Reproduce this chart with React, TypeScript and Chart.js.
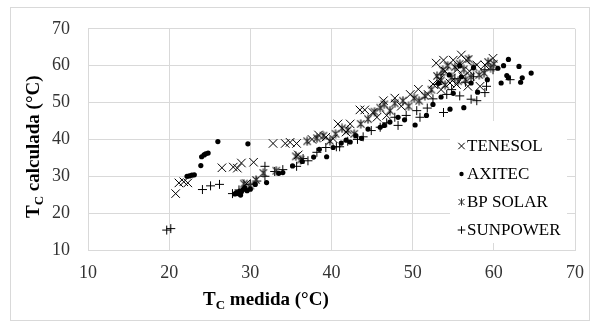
import React, { useEffect, useRef } from 'react';
import { Chart, registerables } from 'chart.js';

Chart.register(...registerables);

const X_MIN = 10;
const X_MAX = 70;
const Y_MIN = 10;
const Y_MAX = 70;
const TICK_STEP = 10;

const SERIES_NAMES = ['TENESOL', 'AXITEC', 'BP SOLAR', 'SUNPOWER'];
const X_TITLE = { main: 'T', sub: 'C', rest: ' medida (°C)' };
const Y_TITLE = { main: 'T', sub: 'C', rest: ' calculada (°C)' };

const TENESOL: [number, number][] = [
  [20.8, 25.3], [21.2, 28.2], [21.8, 28.5], [22.3, 28.2],
  [26.5, 32.3], [27.9, 32.5], [28.4, 32.2], [28.9, 33.6], [30.4, 33.8], [29.5, 28.0],
  [32.8, 38.9], [34.3, 38.9], [34.9, 39.2], [35.7, 38.9], [35.9, 35.8],
  [37.6, 40.0], [38.4, 41.2], [39.3, 40.6], [40.2, 40.2], [40.8, 44.2], [41.8, 42.0],
  [42.3, 44.2], [43.5, 48.0], [44.1, 48.0], [45.1, 47.3], [45.6, 46.0], [46.4, 50.5],
  [46.8, 46.5], [47.8, 51.2], [48.6, 49.0], [49.7, 52.2], [50.7, 53.6], [51.9, 52.2],
  [52.9, 60.7], [53.8, 61.5], [55.0, 61.5], [56.0, 62.9], [56.6, 61.5], [57.9, 60.2],
  [58.9, 60.2], [59.9, 62.0], [53.3, 56.2], [54.6, 55.3], [55.4, 54.9], [56.8, 54.4],
  [58.3, 54.4], [54.0, 58.5], [55.5, 59.0], [57.0, 58.5], [56.2, 57.0], [53.5, 53.5], [52.5, 55.0],
];

const AXITEC: [number, number][] = [
  [22.2, 30.0], [22.5, 30.1], [22.8, 30.3], [23.1, 30.4], [23.9, 32.9], [24.0, 35.3],
  [24.3, 35.8], [24.5, 36.1], [24.8, 36.3], [26.0, 39.4], [29.7, 38.8],
  [28.1, 25.2], [28.3, 25.6], [28.5, 25.3], [28.7, 26.0], [28.9, 25.8], [29.1, 26.4],
  [29.3, 26.9], [29.6, 26.1], [28.8, 24.9], [30.0, 26.5], [30.6, 27.8], [32.0, 28.3],
  [33.5, 30.8], [34.0, 31.0], [35.2, 32.8], [36.4, 34.0], [37.8, 35.2], [39.4, 35.3],
  [38.5, 37.3], [40.2, 37.8], [41.2, 39.0], [41.8, 39.8], [42.3, 39.3], [43.0, 41.0],
  [43.7, 40.3], [44.5, 42.8], [46.0, 43.3], [46.5, 43.8], [47.2, 44.7], [48.2, 46.0],
  [49.0, 45.3], [50.3, 43.9], [51.7, 46.5], [52.5, 49.5], [53.5, 51.5], [54.6, 48.2],
  [56.3, 48.6], [55.0, 52.5], [56.0, 57.0], [57.2, 55.3], [58.0, 52.8], [59.2, 56.2],
  [60.5, 59.3], [61.2, 60.0], [61.8, 61.7], [63.1, 59.8], [64.6, 58.0], [61.6, 57.3],
  [61.8, 56.7], [63.5, 56.7], [63.3, 55.5], [60.9, 55.3], [54.5, 57.5], [53.2, 55.2],
  [57.5, 59.5], [55.8, 60.0],
];

const BP_SOLAR: [number, number][] = [
  [29.2, 28.0], [30.0, 27.5], [30.7, 29.0], [31.6, 30.9], [33.2, 31.5], [35.6, 35.4],
  [36.2, 34.5], [37.0, 39.5], [38.2, 40.3], [39.0, 41.0], [39.8, 39.6], [40.5, 41.5],
  [41.3, 43.0], [42.0, 42.5], [42.8, 41.5], [43.6, 44.2], [44.5, 45.5], [45.3, 47.5],
  [46.0, 48.6], [46.5, 49.5], [47.2, 47.8], [47.8, 49.8], [48.8, 50.5], [49.5, 49.0],
  [50.2, 51.2], [50.8, 50.5], [51.5, 51.8], [52.3, 53.5], [53.0, 57.2], [53.7, 58.8],
  [54.3, 60.0], [55.2, 59.6], [55.8, 60.5], [56.3, 59.0], [56.9, 61.8], [57.5, 59.6],
  [58.2, 57.5], [54.8, 56.8], [55.6, 55.8], [56.5, 56.2], [57.2, 57.0], [58.8, 58.0],
  [59.6, 59.5], [60.0, 60.5], [54.0, 54.8], [53.5, 56.0], [59.3, 61.0],
];

const SUNPOWER: [number, number][] = [
  [19.7, 15.4], [20.2, 15.8], [24.1, 26.4], [25.1, 27.4], [26.2, 27.8], [27.8, 25.3],
  [28.6, 26.3], [30.0, 27.8], [30.8, 28.7], [31.8, 30.0], [31.8, 32.7], [33.0, 31.3],
  [34.0, 31.8], [35.7, 32.7], [36.5, 34.8], [37.1, 34.2], [38.2, 36.5], [39.3, 37.8],
  [40.6, 38.0], [41.0, 38.0], [42.0, 39.5], [43.2, 40.0], [43.9, 40.7], [44.9, 42.4],
  [46.0, 43.3], [46.8, 44.5], [47.8, 46.0], [48.2, 43.8], [49.2, 46.5], [50.5, 47.8],
  [50.9, 46.0], [51.8, 48.5], [53.1, 54.9], [53.8, 47.3], [54.2, 52.2], [54.8, 53.5],
  [55.8, 51.8], [56.5, 55.5], [57.2, 50.9], [57.9, 50.5], [58.9, 52.7], [59.1, 54.4],
  [58.9, 58.9], [59.9, 58.9], [62.0, 56.2], [53.5, 57.5], [55.2, 56.5], [57.5, 57.0], [52.5, 51.0],
];

const SERIF = '"Liberation Serif", "Times New Roman", serif';
const GRID = '#d9d9d9';
const BP_COLOR = '#2b2b2b';

function makeStar(size: number, color: string, lw: number): HTMLCanvasElement {
  const c = document.createElement('canvas');
  c.width = size;
  c.height = size;
  const ctx = c.getContext('2d')!;
  ctx.strokeStyle = color;
  ctx.lineWidth = lw;
  const h = size / 2;
  const r = h - 0.5;
  const d = r * 0.8;
  ctx.beginPath();
  ctx.moveTo(h - d, h - d); ctx.lineTo(h + d, h + d);
  ctx.moveTo(h + d, h - d); ctx.lineTo(h - d, h + d);
  ctx.moveTo(h, h - r); ctx.lineTo(h, h + r);
  ctx.stroke();
  return c;
}

function drawMarker(ctx: CanvasRenderingContext2D, kind: number, x: number, y: number) {
  ctx.save();
  ctx.strokeStyle = '#000';
  ctx.fillStyle = '#000';
  ctx.lineWidth = 1;
  ctx.beginPath();
  if (kind === 0) {
    const d = 3.2;
    ctx.moveTo(x - d, y - d); ctx.lineTo(x + d, y + d);
    ctx.moveTo(x + d, y - d); ctx.lineTo(x - d, y + d);
    ctx.stroke();
  } else if (kind === 1) {
    ctx.arc(x, y, 2.2, 0, Math.PI * 2);
    ctx.fill();
  } else if (kind === 2) {
    ctx.strokeStyle = BP_COLOR;
    const d = 3.0;
    ctx.moveTo(x - d, y - d); ctx.lineTo(x + d, y + d);
    ctx.moveTo(x + d, y - d); ctx.lineTo(x - d, y + d);
    ctx.moveTo(x, y - 3.6); ctx.lineTo(x, y + 3.6);
    ctx.stroke();
  } else {
    const d = 3.8;
    ctx.moveTo(x - d, y); ctx.lineTo(x + d, y);
    ctx.moveTo(x, y - d); ctx.lineTo(x, y + d);
    ctx.stroke();
  }
  ctx.restore();
}

function drawSubTitle(
  ctx: CanvasRenderingContext2D,
  t: { main: string; sub: string; rest: string },
  x: number,
  y: number,
) {
  ctx.font = `bold 19px ${SERIF}`;
  ctx.fillText(t.main, x, y);
  let cx = x + ctx.measureText(t.main).width;
  ctx.font = `bold 13px ${SERIF}`;
  ctx.fillText(t.sub, cx, y + 4);
  cx += ctx.measureText(t.sub).width;
  ctx.font = `bold 19px ${SERIF}`;
  ctx.fillText(t.rest, cx, y);
}

const decorPlugin = {
  id: 'decor',
  beforeDraw(chart: any) {
    const ctx = chart.ctx as CanvasRenderingContext2D;
    ctx.save();
    ctx.fillStyle = '#ffffff';
    ctx.fillRect(0, 0, chart.width, chart.height);
    ctx.strokeStyle = GRID;
    ctx.lineWidth = 1;
    ctx.strokeRect(10.5, 7.5, 579, 313);
    ctx.restore();
  },
  afterDraw(chart: any) {
    const ctx = chart.ctx as CanvasRenderingContext2D;
    ctx.save();
    ctx.fillStyle = '#ffffff';
    ctx.fillRect(450, 121, 117, 122);
    ctx.fillStyle = '#000';
    ctx.textBaseline = 'middle';
    ctx.textAlign = 'left';
    ctx.font = `17px ${SERIF}`;
    SERIES_NAMES.forEach((name, i) => {
      const y = 146 + i * 28;
      drawMarker(ctx, i, 461.5, y);
      ctx.fillStyle = '#000';
      ctx.fillText(name, 467, y + 1);
    });
    ctx.textBaseline = 'alphabetic';
    ctx.fillStyle = '#000';
    drawSubTitle(ctx, X_TITLE, 203, 305);
    ctx.translate(39, 218);
    ctx.rotate(-Math.PI / 2);
    drawSubTitle(ctx, Y_TITLE, 0, 0);
    ctx.restore();
  },
};

export default function App() {
  const ref = useRef<HTMLCanvasElement | null>(null);
  useEffect(() => {
    if (!ref.current) return;
    const toPts = (a: [number, number][]) => a.map(([x, y]) => ({ x, y }));
    const star = makeStar(10, BP_COLOR, 1.3);
    const chart = new Chart(ref.current, {
      type: 'scatter',
      data: {
        datasets: [
          {
            label: SERIES_NAMES[0],
            data: toPts(TENESOL),
            pointStyle: 'crossRot',
            pointRadius: 6,
            borderColor: '#000',
            backgroundColor: '#000',
            borderWidth: 1,
          },
          {
            label: SERIES_NAMES[1],
            data: toPts(AXITEC),
            pointStyle: 'circle',
            pointRadius: 2.6,
            borderColor: '#000',
            backgroundColor: '#000',
            borderWidth: 0,
          },
          {
            label: SERIES_NAMES[2],
            data: toPts(BP_SOLAR),
            pointStyle: star as any,
            pointRadius: 5,
            borderColor: BP_COLOR,
            backgroundColor: BP_COLOR,
          },
          {
            label: SERIES_NAMES[3],
            data: toPts(SUNPOWER),
            pointStyle: 'cross',
            pointRadius: 4.5,
            borderColor: '#000',
            backgroundColor: '#000',
            borderWidth: 1,
          },
        ],
      },
      options: {
        animation: false,
        responsive: false,
        devicePixelRatio: 1,
        layout: { padding: { left: 0, right: 23, top: 25, bottom: 0 } },
        plugins: {
          legend: { display: false },
          tooltip: { enabled: false },
          title: { display: false },
        },
        scales: {
          x: {
            type: 'linear',
            min: X_MIN,
            max: X_MAX,
            ticks: {
              stepSize: TICK_STEP,
              padding: 12,
              color: '#333333',
              font: { family: SERIF, size: 18 },
            },
            grid: { color: GRID, drawTicks: false, lineWidth: 1 },
            border: { display: true, color: GRID },
            afterFit: (s: any) => { s.height = 72; },
          },
          y: {
            type: 'linear',
            min: Y_MIN,
            max: Y_MAX,
            ticks: {
              stepSize: TICK_STEP,
              padding: 18,
              color: '#333333',
              font: { family: SERIF, size: 18 },
            },
            grid: { color: GRID, drawTicks: false, lineWidth: 1 },
            border: { display: true, color: GRID },
            afterFit: (s: any) => { s.width = 88; },
          },
        },
      },
      plugins: [decorPlugin],
    });
    return () => chart.destroy();
  }, []);
  return (
    <div style={{ position: 'absolute', left: 0, top: 0, width: 598, height: 322 }}>
      <canvas ref={ref} width={598} height={322} style={{ display: 'block', width: 598, height: 322 }} />
    </div>
  );
}
